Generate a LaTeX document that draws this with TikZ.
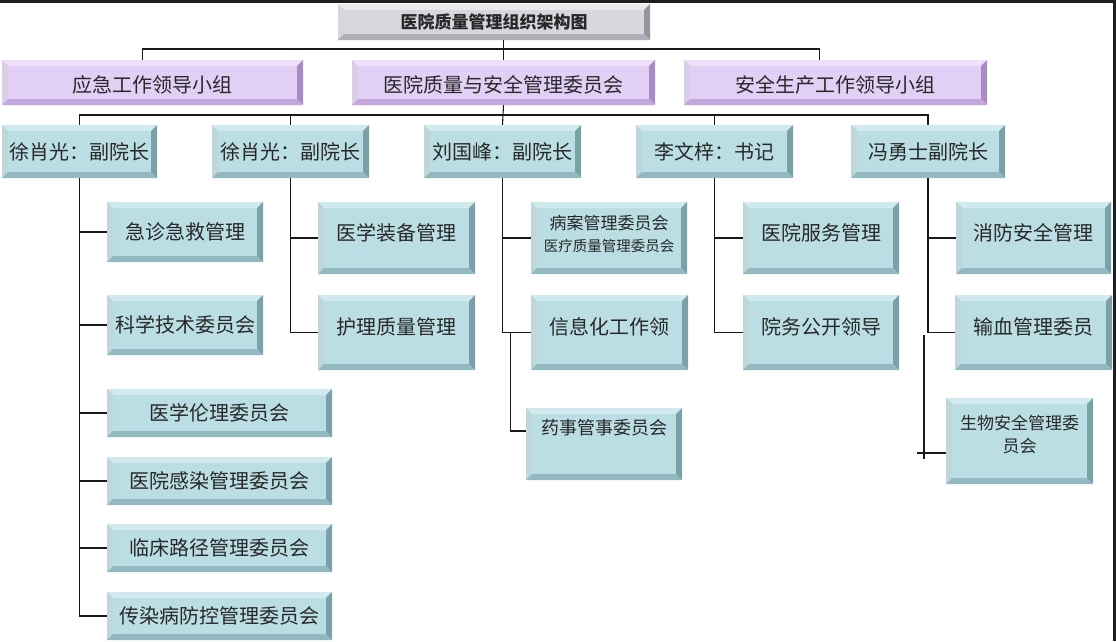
\documentclass[tikz,border=0pt]{standalone}
\usepackage{fontspec}
\setmainfont{Noto Sans CJK SC}
\usetikzlibrary{calc,positioning}
\definecolor{txtgray}{RGB}{40,40,40}
\definecolor{linegray}{RGB}{25,25,25}
\definecolor{frame}{RGB}{30,30,30}
% blue boxes
\definecolor{bluface}{RGB}{186,222,228}
\definecolor{blutop}{RGB}{208,234,238}
\definecolor{bluright}{RGB}{122,160,168}
\definecolor{blubottom}{RGB}{146,184,192}
% purple boxes
\definecolor{purface}{RGB}{226,207,246}
\definecolor{purtop}{RGB}{238,224,251}
\definecolor{purright}{RGB}{170,140,196}
\definecolor{purbottom}{RGB}{196,166,222}
% title box
\definecolor{gryface}{RGB}{214,214,221}
\definecolor{grytop}{RGB}{233,233,237}
\definecolor{gryright}{RGB}{148,148,158}
\definecolor{grybottom}{RGB}{174,174,182}

\begin{document}
\begin{tikzpicture}[x=1pt,y=-1pt,% pixel grid of the reference
					every node/.style={
						align=center,		% so that "\\" breaks the line
						inner sep=0pt,
						text=txtgray,
						font=\fontsize{20}{23}\selectfont
						},
					bevel/.style n args={4}{% face, top and left, right, bottom
						fill=#1, draw=none,
						path picture={
							\coordinate (bbA) at (path picture bounding box.north west);
							\coordinate (bbB) at (path picture bounding box.north east);
							\coordinate (bbC) at (path picture bounding box.south east);
							\coordinate (bbD) at (path picture bounding box.south west);
							\fill[#2] (bbA) -- (bbB) -- ([shift={(-6pt,-6pt)}]bbB) -- ([shift={(6pt,-6pt)}]bbA) -- cycle;
							\fill[#2!92!black] (bbA) -- ([shift={(6pt,-6pt)}]bbA) -- ([shift={(6pt,6pt)}]bbD) -- (bbD) -- cycle;
							\fill[#3] (bbB) -- (bbC) -- ([shift={(-6pt,6pt)}]bbC) -- ([shift={(-6pt,-6pt)}]bbB) -- cycle;
							\fill[#4] (bbD) -- (bbC) -- ([shift={(-6pt,6pt)}]bbC) -- ([shift={(6pt,6pt)}]bbD) -- cycle;
							}
						},
					titlebox/.style={rectangle,bevel={gryface}{grytop}{gryright}{grybottom},font=\fontsize{17}{20}\bfseries},
					purbox/.style={rectangle,bevel={purface}{purtop}{purright}{purbottom},minimum height=45pt,minimum width=303pt},
					headbox/.style={rectangle,bevel={bluface}{blutop}{bluright}{blubottom},minimum height=53pt,minimum width=157pt},
					blubox/.style={rectangle,bevel={bluface}{blutop}{bluright}{blubottom},minimum width=156pt},
					tshift/.style 2 args={text height=#1,text depth=#2},
					conn/.style={draw=linegray,line width=1.1pt},
					thickconn/.style={draw=linegray,line width=2pt}
					]
\clip (0,0) rectangle (1116,641);
\fill[white] (0,0) rectangle (1116,641);
\fill[frame] (0,0) rectangle (1116,3);
\fill[frame] (1113,0) rectangle (1116,641);

% title and the three groups
\node[titlebox,minimum width=312pt,minimum height=36pt](T) at (494,22){医院质量管理组织架构图};
\node[purbox,minimum width=301pt,tshift={21pt}{1pt}](P1) at (152.5,82.5){应急工作领导小组};
\node[purbox,tshift={21pt}{1pt}](P2) at (503.5,82.5){医院质量与安全管理委员会};
\node[purbox,tshift={21pt}{1pt}](P3) at (835.5,82.5){安全生产工作领导小组};

% leaders
\node[headbox,minimum width=155pt](B1) at (79.5,151.5){徐肖光：副院长};
\node[headbox](B2) at (290.5,151.5){徐肖光：副院长};
\node[headbox](B3) at (502.5,151.5){刘国峰：副院长};
\node[headbox](B4) at (714.5,151.5){李文梓：书记};
\node[headbox,minimum width=154pt](B5) at (928,151.5){冯勇士副院长};

% first column
\node[blubox,minimum height=60pt](C11) at (185,232){急诊急救管理};
\node[blubox,minimum height=60pt](C12) at (185,325){科学技术委员会};
\node[blubox,minimum width=225pt,minimum height=48pt](C13) at (219.5,413){医学伦理委员会};
\node[blubox,minimum width=225pt,minimum height=48pt](C14) at (219.5,481){医院感染管理委员会};
\node[blubox,minimum width=225pt,minimum height=48pt](C15) at (219.5,548){临床路径管理委员会};
\node[blubox,minimum width=225pt,minimum height=48pt](C16) at (219.5,616){传染病防控管理委员会};

% second column
\node[blubox,minimum width=157pt,minimum height=72pt,tshift={13pt}{9pt}](C21) at (396.5,238){医学装备管理};
\node[blubox,minimum width=157pt,minimum height=75pt,tshift={13pt}{9pt}](C22) at (396.5,332.5){护理质量管理};

% third column
\node[blubox,minimum height=72pt,font=\fontsize{17}{22}\selectfont,text depth=10pt](C31) at (609,238){病案管理委员会\\{\fontsize{14.5}{17}\selectfont 医疗质量管理委员会}};
\node[blubox,minimum width=157pt,minimum height=75pt,tshift={13pt}{9pt}](C32) at (609.5,332.5){信息化工作领};
\node[blubox,minimum height=72pt,font=\fontsize{18}{21}\selectfont,tshift={2pt}{21pt}](C33) at (604,444){药事管事委员会};

% fourth column
\node[blubox,minimum height=72pt,tshift={13pt}{9pt}](C41) at (821,238){医院服务管理};
\node[blubox,minimum height=75pt,tshift={13pt}{9pt}](C42) at (821,332.5){院务公开领导};

% fifth column
\node[blubox,minimum width=155pt,minimum height=72pt,tshift={13pt}{9pt}](C51) at (1033.5,238){消防安全管理};
\node[blubox,minimum width=157pt,minimum height=75pt,tshift={13pt}{9pt}](C52) at (1033.5,332.5){输血管理委员};
\node[blubox,minimum width=147pt,minimum height=86pt,font=\fontsize{17}{23}\selectfont,text depth=15pt](C53) at (1019.5,441){生物安全管理委\\员会};

% buses
\coordinate (busTop) at (503,49);
\coordinate (busMid) at (503,115);
\draw[conn] (P2.north) -- (P2.north |- T.south);
\draw[conn] ([xshift=-10pt]P1.north) |- (busTop) -| ([xshift=-16pt]P3.north);
\draw[conn] (P2.south) -- (B3.north);
\draw[conn] (B1.north) |- (busMid) -| (B5.north);
\foreach \b in {B2,B4}
	\draw[conn] (\b.north) -- (\b.north |- busMid);

% trunks and branches
\draw[conn] (B1.south) |- (C16.west);
\foreach \c in {C11,C13,C14,C15}
	\draw[conn] (B1.south |- \c.west) -- (\c.west);
\draw[thickconn] (B1.south |- C12.west) -- (C12.west);

\draw[conn] (B2.south) |- (C22.west);
\draw[thickconn] (B2.south |- C21.west) -- (C21.west);

\draw[conn] (B3.south) |- (C32.west);
\draw[thickconn] (B3.south |- C31.west) -- (C31.west);
\coordinate (sub3) at ([xshift=8pt]B3.south |- C32.west);
\draw[conn] (sub3) |- ([yshift=13pt]C33.west);

\draw[conn] (B4.south) |- (C42.west);
\draw[thickconn] (B4.south |- C41.west) -- (C41.west);

\draw[conn] (B5.south) |- (C52.west);
\draw[thickconn] (B5.south |- C51.west) -- (C51.west);
\coordinate (sub5) at ([xshift=-4pt,yshift=-2pt]B5.south |- C52.west);
\coordinate (bio) at ([yshift=-12pt]C53.west);
\draw[conn] (sub5) -- ([yshift=-6pt]sub5 |- bio);
\draw[conn] ([xshift=-7pt]sub5 |- bio) -- (bio);
\end{tikzpicture}
\end{document}
